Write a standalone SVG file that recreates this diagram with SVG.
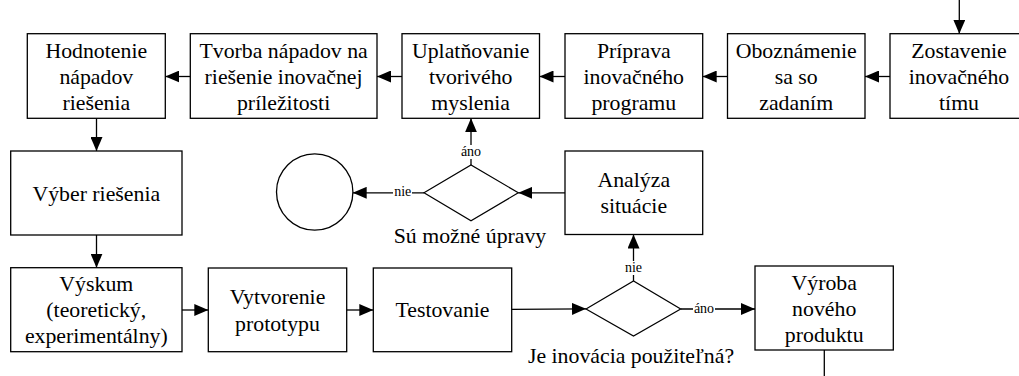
<svg xmlns="http://www.w3.org/2000/svg" width="1019" height="376" viewBox="0 0 1019 376">
  <style>
    .box { fill: #fff; stroke: #000; stroke-width: 1.3; }
    .dec { fill: #fff; stroke: #000; stroke-width: 1.2; }
    .t { font-family: "Liberation Serif", "Times New Roman", serif; font-size: 21.8px; fill: #000; text-anchor: middle; }
    .lbl { font-family: "Liberation Serif", "Times New Roman", serif; font-size: 14px; fill: #000; text-anchor: middle; }
    .edge { fill: none; stroke: #000; stroke-width: 1.3; }
    .arr { marker-end: url(#head); }
    .bg { fill: #fff; }
  </style>
  <defs>
    <marker id="head" markerUnits="userSpaceOnUse" markerWidth="15" markerHeight="12" refX="14" refY="6" orient="auto">
      <path d="M0,0 L14,6 L0,12 z" fill="#000"/>
    </marker>
  </defs>
  <rect width="1019" height="376" fill="#fff"/>

  <!-- connectors -->
  <g id="connectors">
    <line class="edge arr" x1="959.3" y1="0" x2="959.3" y2="33.7"/>
    <line class="edge arr" x1="890" y1="76.5" x2="865" y2="76.5"/>
    <line class="edge arr" x1="727.5" y1="76.5" x2="702.7" y2="76.5"/>
    <line class="edge arr" x1="565" y1="76.5" x2="539.5" y2="76.5"/>
    <line class="edge arr" x1="402" y1="76.5" x2="377" y2="76.5"/>
    <line class="edge arr" x1="190.3" y1="76.5" x2="165.3" y2="76.5"/>
    <line class="edge arr" x1="96.5" y1="118.3" x2="96.5" y2="151"/>
    <line class="edge arr" x1="96.5" y1="235" x2="96.5" y2="267.7"/>
    <line class="edge arr" x1="182" y1="310" x2="208.3" y2="310"/>
    <line class="edge arr" x1="346.7" y1="310" x2="373.3" y2="310"/>
    <line class="edge arr" x1="511.7" y1="309.4" x2="586" y2="308.8"/>
    <line class="edge arr" x1="680.7" y1="309" x2="755" y2="309"/>
    <line class="edge arr" x1="633.5" y1="281" x2="633.5" y2="234.5"/>
    <line class="edge arr" x1="565" y1="192.8" x2="518.3" y2="192.8"/>
    <line class="edge arr" x1="471" y1="165" x2="471" y2="118.3"/>
    <line class="edge arr" x1="424" y1="192.8" x2="352.7" y2="192.8"/>
    <line class="edge" x1="824.3" y1="350" x2="824.3" y2="376"/>
    <!-- branch labels -->
    <rect class="bg" x="393" y="185" width="19" height="14"/>
    <text class="lbl" x="402.7" y="196">nie</text>
    <rect class="bg" x="460" y="145" width="22" height="14"/>
    <text class="lbl" x="471" y="155.7">áno</text>
    <rect class="bg" x="624" y="261" width="19" height="14"/>
    <text class="lbl" x="633.5" y="271.7">nie</text>
    <rect class="bg" x="693" y="302" width="22" height="14"/>
    <text class="lbl" x="704" y="312.5">áno</text>
  </g>

  <!-- top row -->
  <g id="zostavenie">
    <rect class="box" x="890" y="33.7" width="137.7" height="84.6"/>
    <text class="t" x="959" y="57.5">Zostavenie</text>
    <text class="t" x="959" y="83.7">inovačného</text>
    <text class="t" x="959" y="110">tímu</text>
  </g>
  <g id="oboznamenie">
    <rect class="box" x="727.5" y="33.7" width="137.5" height="84.6"/>
    <text class="t" x="796.2" y="57.5">Oboznámenie</text>
    <text class="t" x="796.2" y="83.7">sa so</text>
    <text class="t" x="796.2" y="110">zadaním</text>
  </g>
  <g id="priprava">
    <rect class="box" x="565" y="33.7" width="137.7" height="84.6"/>
    <text class="t" x="633.8" y="57.5">Príprava</text>
    <text class="t" x="633.8" y="83.7">inovačného</text>
    <text class="t" x="633.8" y="110">programu</text>
  </g>
  <g id="uplatnovanie">
    <rect class="box" x="402" y="33.7" width="137.5" height="84.6"/>
    <text class="t" x="470.7" y="57.5">Uplatňovanie</text>
    <text class="t" x="470.7" y="83.7">tvorivého</text>
    <text class="t" x="470.7" y="110">myslenia</text>
  </g>
  <g id="tvorba">
    <rect class="box" x="190.3" y="33.7" width="186.7" height="84.6"/>
    <text class="t" x="283.6" y="57.5">Tvorba nápadov na</text>
    <text class="t" x="283.6" y="83.7">riešenie inovačnej</text>
    <text class="t" x="283.6" y="110">príležitosti</text>
  </g>
  <g id="hodnotenie">
    <rect class="box" x="27.3" y="33.7" width="138" height="84.6"/>
    <text class="t" x="96.3" y="57.5">Hodnotenie</text>
    <text class="t" x="96.3" y="83.7">nápadov</text>
    <text class="t" x="96.3" y="110">riešenia</text>
  </g>

  <!-- middle row -->
  <g id="vyber">
    <rect class="box" x="10.7" y="151" width="171.3" height="84"/>
    <text class="t" x="96.3" y="200.5">Výber riešenia</text>
  </g>
  <g id="koniec">
    <circle class="box" cx="314.7" cy="192" r="38.2"/>
  </g>
  <g id="upravy">
    <polygon class="dec" points="424,192.8 471,165 518.3,192.8 471,220.7"/>
    <text class="t" x="470" y="243.3">Sú možné úpravy</text>
  </g>
  <g id="analyza">
    <rect class="box" x="565" y="151" width="137.7" height="83.5"/>
    <text class="t" x="633.8" y="187">Analýza</text>
    <text class="t" x="633.8" y="213.3">situácie</text>
  </g>

  <!-- bottom row -->
  <g id="vyskum">
    <rect class="box" x="10.7" y="267.7" width="171.3" height="84"/>
    <text class="t" x="96.3" y="290.5">Výskum</text>
    <text class="t" x="96.3" y="316.5">(teoretický,</text>
    <text class="t" x="96.3" y="342.5">experimentálny)</text>
  </g>
  <g id="prototyp">
    <rect class="box" x="208.3" y="268" width="138.4" height="83.7"/>
    <text class="t" x="277.5" y="304.3">Vytvorenie</text>
    <text class="t" x="277.5" y="330.5">prototypu</text>
  </g>
  <g id="testovanie">
    <rect class="box" x="373.3" y="268" width="138.4" height="83.7"/>
    <text class="t" x="442.5" y="317">Testovanie</text>
  </g>
  <g id="pouzitelna">
    <polygon class="dec" points="586,309 633.5,281 680.7,309 633.5,336"/>
    <text class="t" x="631" y="363">Je inovácia použiteľná?</text>
  </g>
  <g id="vyroba">
    <rect class="box" x="755" y="266" width="138.3" height="84"/>
    <text class="t" x="824.2" y="289.5">Výroba</text>
    <text class="t" x="824.2" y="315.7">nového</text>
    <text class="t" x="824.2" y="341.5">produktu</text>
  </g>
</svg>
